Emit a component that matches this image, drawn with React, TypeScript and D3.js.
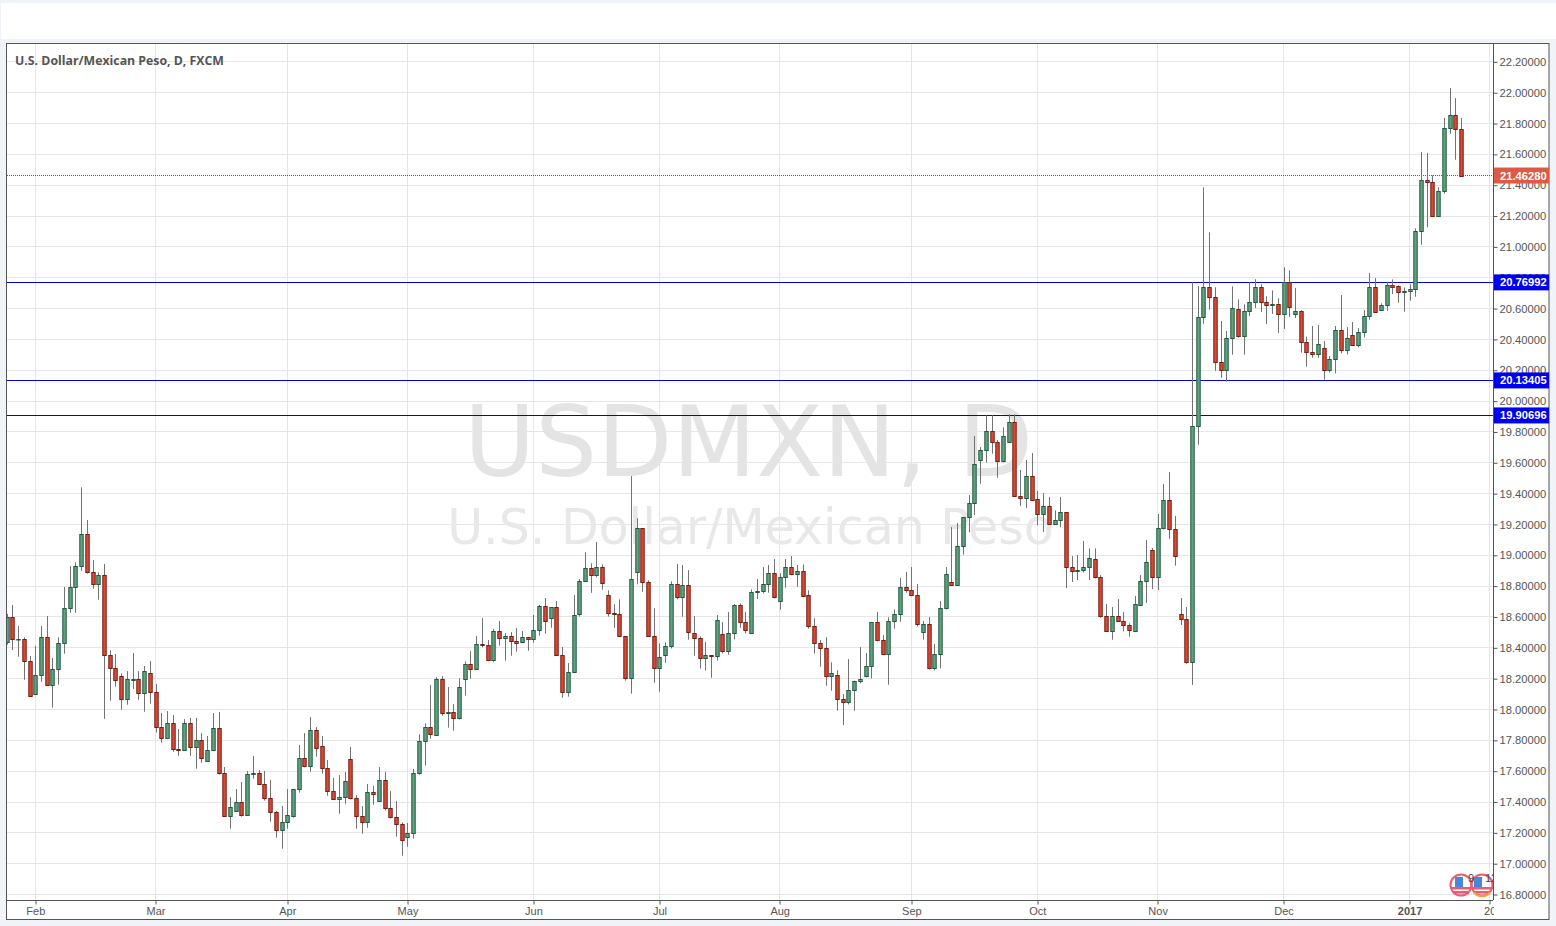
import { useEffect, useRef } from "react";
import * as d3 from "d3";

const opens = [
  18.435,18.598,18.455,18.455,18.312,18.098,18.221,18.468,18.157,18.260,
  18.429,18.656,18.792,18.928,19.136,18.889,18.812,18.870,18.351,18.267,
  18.215,18.066,18.193,18.195,18.105,18.234,18.111,17.884,17.813,17.910,
  17.741,17.735,17.910,17.754,17.800,17.664,17.735,17.878,17.586,17.307,
  17.339,17.398,17.313,17.579,17.586,17.515,17.424,17.333,17.216,17.268,
  17.307,17.482,17.683,17.631,17.865,17.761,17.618,17.469,17.417,17.430,
  17.677,17.424,17.307,17.268,17.463,17.404,17.540,17.359,17.300,17.255,
  17.171,17.197,17.586,17.793,17.884,17.832,18.195,17.975,17.981,17.943,
  18.195,18.293,18.260,18.422,18.416,18.319,18.507,18.461,18.474,18.442,
  18.435,18.468,18.455,18.513,18.669,18.591,18.662,18.351,18.111,18.241,
  18.617,18.831,18.915,18.870,18.922,18.740,18.623,18.617,18.474,18.202,
  18.889,19.175,18.825,18.474,18.267,18.351,18.409,18.812,18.727,18.805,
  18.494,18.461,18.331,18.351,18.345,18.487,18.377,18.494,18.675,18.565,
  18.494,18.760,18.766,18.812,18.883,18.701,18.857,18.922,18.876,18.896,
  18.740,18.539,18.429,18.396,18.215,18.221,18.066,18.046,18.124,18.183,
  18.215,18.280,18.565,18.448,18.358,18.572,18.617,18.792,18.773,18.740,
  18.500,18.552,18.267,18.358,18.656,18.825,18.805,19.058,19.246,19.337,
  19.616,19.681,19.804,19.732,19.609,19.732,19.862,19.382,19.369,19.512,
  19.363,19.266,19.317,19.201,19.227,19.279,18.922,18.896,18.902,18.922,
  18.974,18.857,18.604,18.507,18.604,18.572,18.546,18.511,18.680,18.831,
  19.032,18.857,19.175,19.356,19.168,18.617,18.585,18.306,19.837,20.543,
  20.738,20.673,20.252,20.204,20.407,20.595,20.420,20.582,20.641,20.738,
  20.641,20.621,20.628,20.563,20.770,20.563,20.582,20.381,20.316,20.303,
  20.342,20.199,20.270,20.459,20.329,20.426,20.361,20.446,20.549,20.737,
  20.588,20.621,20.750,20.744,20.705,20.711,20.724,21.101,21.431,21.418,
  21.198,21.360,21.769,21.853,21.762,
];
const closes = [
  18.598,18.455,18.458,18.312,18.085,18.221,18.468,18.157,18.260,18.429,
  18.656,18.792,18.928,19.136,18.889,18.812,18.870,18.351,18.267,18.189,
  18.066,18.195,18.197,18.105,18.247,18.111,17.884,17.813,17.910,17.741,
  17.735,17.910,17.754,17.800,17.683,17.735,17.878,17.586,17.307,17.365,
  17.398,17.313,17.579,17.586,17.515,17.424,17.333,17.216,17.268,17.313,
  17.482,17.683,17.631,17.865,17.748,17.618,17.469,17.417,17.430,17.534,
  17.424,17.307,17.268,17.463,17.450,17.540,17.359,17.300,17.255,17.151,
  17.197,17.586,17.793,17.884,17.839,18.195,17.975,17.981,17.943,18.144,
  18.293,18.260,18.422,18.416,18.319,18.507,18.461,18.474,18.442,18.429,
  18.468,18.455,18.513,18.669,18.572,18.662,18.351,18.111,18.241,18.610,
  18.831,18.915,18.870,18.922,18.818,18.623,18.617,18.474,18.202,18.844,
  19.175,18.825,18.474,18.267,18.338,18.409,18.812,18.727,18.805,18.500,
  18.461,18.331,18.351,18.345,18.578,18.377,18.494,18.675,18.565,18.513,
  18.760,18.766,18.812,18.883,18.727,18.857,18.922,18.876,18.896,18.734,
  18.539,18.429,18.396,18.215,18.234,18.066,18.046,18.124,18.183,18.195,
  18.280,18.565,18.448,18.358,18.572,18.617,18.792,18.773,18.740,18.552,
  18.552,18.267,18.358,18.656,18.876,18.805,19.058,19.246,19.337,19.590,
  19.681,19.804,19.732,19.609,19.771,19.862,19.382,19.369,19.512,19.356,
  19.266,19.317,19.201,19.227,19.279,18.922,18.896,18.902,18.922,18.980,
  18.857,18.604,18.507,18.604,18.572,18.546,18.513,18.682,18.831,18.954,
  18.857,19.175,19.356,19.168,18.993,18.585,18.306,19.837,20.543,20.738,
  20.673,20.252,20.204,20.407,20.602,20.420,20.582,20.641,20.738,20.641,
  20.621,20.628,20.563,20.770,20.608,20.582,20.381,20.316,20.303,20.368,
  20.199,20.270,20.459,20.329,20.407,20.361,20.446,20.549,20.737,20.575,
  20.621,20.750,20.742,20.705,20.711,20.724,21.101,21.431,21.418,21.198,
  21.360,21.769,21.853,21.762,21.4628,
];
const highs = [
  18.620,18.678,18.541,18.468,18.347,18.412,18.541,18.606,18.334,18.468,
  18.794,18.930,18.954,19.441,19.229,18.969,18.889,18.943,18.384,18.360,
  18.234,18.249,18.366,18.249,18.282,18.314,18.165,17.977,17.990,17.964,
  17.873,17.938,17.945,17.945,17.847,17.828,17.977,17.984,17.627,17.432,
  17.484,17.530,17.601,17.698,17.607,17.601,17.543,17.342,17.374,17.484,
  17.482,17.770,17.847,17.951,17.886,17.828,17.672,17.556,17.575,17.595,
  17.757,17.445,17.374,17.517,17.504,17.627,17.595,17.471,17.406,17.268,
  17.264,17.614,17.839,17.910,18.159,18.210,18.217,18.146,18.035,18.202,
  18.312,18.379,18.476,18.593,18.451,18.522,18.574,18.494,18.502,18.528,
  18.509,18.468,18.613,18.678,18.723,18.662,18.703,18.405,18.301,18.742,
  18.846,19.019,18.948,19.086,18.941,18.773,18.682,18.714,18.474,19.514,
  19.240,19.175,18.838,18.656,18.429,18.435,18.831,18.943,18.937,18.904,
  18.606,18.474,18.438,18.351,18.613,18.567,18.632,18.684,18.688,18.632,
  18.779,18.846,18.924,18.937,18.976,18.883,18.976,18.995,18.937,18.941,
  18.773,18.591,18.451,18.468,18.306,18.254,18.100,18.327,18.187,18.405,
  18.366,18.565,18.632,18.483,18.598,18.649,18.853,18.892,18.924,18.814,
  18.574,18.600,18.425,18.703,18.924,19.183,19.209,19.246,19.391,19.774,
  19.702,19.908,19.908,19.748,19.830,19.914,19.914,19.553,19.618,19.663,
  19.417,19.404,19.378,19.291,19.378,19.279,18.995,19.002,19.093,19.045,
  19.045,18.872,18.684,18.665,18.716,18.632,18.559,18.736,18.872,19.099,
  19.047,19.268,19.462,19.540,19.255,18.723,18.665,20.770,20.746,21.386,
  21.095,20.738,20.520,20.455,20.744,20.660,20.628,20.770,20.790,20.757,
  20.680,20.718,20.667,20.868,20.848,20.734,20.589,20.418,20.487,20.493,
  20.389,20.292,20.487,20.688,20.480,20.513,20.474,20.590,20.830,20.798,
  20.634,20.774,20.789,20.750,20.737,20.757,21.120,21.615,21.609,21.464,
  21.386,21.836,22.030,21.965,21.836,
];
const lows = [
  18.420,18.386,18.342,18.193,18.085,18.098,18.180,18.157,18.012,18.161,
  18.362,18.628,18.628,18.900,18.881,18.783,18.712,17.940,18.057,18.148,
  17.999,18.031,18.133,18.064,17.986,18.038,17.850,17.785,17.813,17.726,
  17.700,17.735,17.700,17.616,17.655,17.664,17.735,17.577,17.307,17.227,
  17.339,17.305,17.313,17.551,17.515,17.409,17.272,17.169,17.097,17.227,
  17.298,17.461,17.625,17.597,17.694,17.584,17.441,17.417,17.324,17.389,
  17.417,17.227,17.195,17.233,17.383,17.404,17.346,17.294,17.175,17.052,
  17.110,17.162,17.577,17.636,17.811,17.832,17.960,17.882,17.863,17.936,
  18.090,18.200,18.260,18.403,18.319,18.310,18.414,18.317,18.349,18.375,
  18.435,18.381,18.433,18.479,18.492,18.530,18.351,18.077,18.083,18.241,
  18.602,18.831,18.757,18.857,18.777,18.602,18.530,18.474,18.187,18.103,
  18.812,18.764,18.474,18.174,18.115,18.303,18.396,18.714,18.602,18.453,
  18.349,18.265,18.252,18.206,18.317,18.364,18.355,18.455,18.530,18.494,
  18.494,18.716,18.753,18.757,18.721,18.647,18.790,18.870,18.796,18.734,
  18.524,18.362,18.277,18.154,18.122,17.992,17.899,18.033,17.992,18.170,
  18.208,18.202,18.442,18.358,18.161,18.524,18.569,18.757,18.740,18.539,
  18.453,18.260,18.254,18.267,18.649,18.805,18.805,19.004,19.149,19.261,
  19.464,19.601,19.659,19.503,19.603,19.732,19.382,19.320,19.307,19.356,
  19.196,19.151,19.201,19.201,19.181,18.788,18.827,18.840,18.889,18.840,
  18.850,18.595,18.507,18.453,18.572,18.507,18.472,18.505,18.680,18.691,
  18.781,18.775,19.168,19.106,18.933,18.548,18.297,18.159,19.717,20.502,
  20.593,20.197,20.152,20.126,20.301,20.412,20.302,20.552,20.604,20.578,
  20.500,20.565,20.442,20.468,20.546,20.539,20.314,20.223,20.281,20.281,
  20.139,20.186,20.180,20.309,20.303,20.361,20.348,20.413,20.528,20.575,
  20.588,20.586,20.694,20.638,20.580,20.651,20.677,21.014,21.127,21.198,
  21.198,21.345,21.734,21.565,21.463,
];

const priceTicks = [16.8,17,17.2,17.4,17.6,17.8,18,18.2,18.4,18.6,18.8,19,19.2,19.4,19.6,19.8,20,20.2,20.4,20.6,20.8,21,21.2,21.4,21.6,21.8,22,22.2];
const monthBars = [5,26,49,70,92,114,135,158,180,201,223,245,259];
const monthLabels = ["Feb","Mar","Apr","May","Jun","Jul","Aug","Sep","Oct","Nov","Dec","2017","20"];
const levels = [20.76992,20.13405,19.90696];
const lastPrice = 21.4628;
const calendarLabels = ["9","12"];

const plot = { left: 7, right: 1493, top: 44, bottom: 900 };
const font = "'Liberation Sans', Arial, sans-serif";
const green = { fill: "#63a27f", stroke: "#1d5a40" };
const red = { fill: "#d94a36", stroke: "#761d12" };

const buildChart = (ref: SVGSVGElement) => {
  const svg = d3.select(ref);
  svg.selectAll("*").remove();

  const x = d3.scaleLinear().domain([0, 254]).range([6.67, 1461.1]);
  const y = d3.scaleLinear().domain([22, 17]).range([92.7, 863.7]);
  const crisp = (v: number) => Math.floor(v) + 0.5;

  svg.append("rect").attr("width", 1556).attr("height", 926).attr("fill", "#f0f3f8");
  svg.append("rect").attr("x", 1).attr("y", 3).attr("width", 1555).attr("height", 36).attr("fill", "#fff");
  svg.append("rect").attr("x", 6.5).attr("y", 43.5).attr("width", 1542.5).attr("height", 876)
    .attr("fill", "#fff").attr("stroke", "#555");

  const defs = svg.append("defs");
  defs.append("clipPath").attr("id", "plot").append("rect")
    .attr("x", plot.left).attr("y", plot.top).attr("width", plot.right - plot.left).attr("height", plot.bottom - plot.top);
  defs.append("clipPath").attr("id", "timeAxis").append("rect")
    .attr("x", plot.left).attr("y", plot.bottom).attr("width", plot.right - plot.left + 1).attr("height", 19);

  const g = svg.append("g").attr("clip-path", "url(#plot)");

  g.selectAll("line.hgrid").data(priceTicks).enter().append("line")
    .attr("x1", plot.left).attr("x2", plot.right)
    .attr("y1", (d) => crisp(y(d))).attr("y2", (d) => crisp(y(d)))
    .attr("stroke", "#e6e6e6");
  g.selectAll("line.vgrid").data(monthBars).enter().append("line")
    .attr("x1", (d) => crisp(x(d))).attr("x2", (d) => crisp(x(d)))
    .attr("y1", plot.top).attr("y2", plot.bottom)
    .attr("stroke", "#e6e6e6");

  // watermark
  g.append("text").text("USDMXN, D")
    .attr("x", 748.5).attr("y", 476).attr("text-anchor", "middle")
    .style("font", "97.5px 'DejaVu Sans'").attr("fill", "#e4e4e4");
  g.append("text").text("U.S. Dollar/Mexican Peso")
    .attr("x", 750.5).attr("y", 544).attr("text-anchor", "middle")
    .style("font", "49px 'DejaVu Sans'").attr("fill", "#e8e8e8");

  // levels under the candles
  g.selectAll("line.level").data(levels).enter().append("line")
    .attr("x1", plot.left).attr("x2", plot.right)
    .attr("y1", (d) => crisp(y(d))).attr("y2", (d) => crisp(y(d)))
    .attr("stroke", "#0000e0");
  g.append("line")
    .attr("x1", plot.left).attr("x2", plot.right)
    .attr("y1", crisp(y(lastPrice))).attr("y2", crisp(y(lastPrice)))
    .attr("stroke", "#a8402f").attr("stroke-dasharray", "1,1");

  const bars = g.selectAll("g.bar").data(opens).enter().append("g");
  bars.each(function (o, i) {
    const el = d3.select(this);
    const c = closes[i];
    const col = c >= o ? green : red;
    const cx = Math.round(x(i));
    const top = Math.round(y(Math.max(o, c)));
    const bottom = Math.round(y(Math.min(o, c)));
    el.append("line")
      .attr("x1", cx + 0.5).attr("x2", cx + 0.5)
      .attr("y1", y(highs[i])).attr("y2", y(lows[i]))
      .attr("stroke", "#737373");
    el.append("rect")
      .attr("x", cx - 1.2).attr("y", top + 0.5)
      .attr("width", 3.4).attr("height", Math.max(bottom - top, 0.5))
      .attr("fill", col.fill).attr("stroke", col.stroke);
  });

  // calendar marks, lower right
  const marks = [{ cx: 1461, dx: -6, tx: 7 }, { cx: 1482, dx: -8, tx: 3 }];
  marks.forEach((k, n) => {
    const m = g.append("g").attr("transform", `translate(${k.cx} 885)`);
    m.append("circle").attr("r", 10.5).attr("fill", "none").attr("stroke", "#ee5a70").attr("stroke-width", 2);
    m.append("rect").attr("x", -9).attr("y", 2).attr("width", 18).attr("height", 2.5).attr("fill", "#ee5a70");
    m.append("rect").attr("x", -8).attr("y", 6).attr("width", 16).attr("height", 2.5).attr("fill", "#ee5a70");
    m.append("rect").attr("x", k.dx).attr("y", -8).attr("width", 8).attr("height", 10).attr("fill", "#4a86d8");
    if (n === 1) {
      m.append("path").attr("d", "M-8 7.5 A10.5 10.5 0 0 0 8 7.5").attr("fill", "none").attr("stroke", "#f2a23c").attr("stroke-width", 2);
    }
  });
  marks.forEach((k, n) => {
    g.append("text").text(calendarLabels[n]).attr("x", k.cx + k.tx).attr("y", 882)
      .style("font", `11px ${font}`).attr("fill", "#444");
  });

  // title
  svg.append("text").text("U.S. Dollar/Mexican Peso, D, FXCM")
    .attr("x", 15).attr("y", 65)
    .style("font", "bold 12.3px 'Open Sans'").attr("fill", "#555");

  // price axis
  const axisY = d3.axisRight(y).tickValues(priceTicks).tickFormat(d3.format(".5f") as any).tickSize(4).tickPadding(2);
  const gy = svg.append("g").attr("transform", `translate(${plot.right + 0.5} 0)`).call(axisY);
  gy.select(".domain").attr("d", `M0 ${plot.top}V${plot.bottom}`).attr("stroke", "#555");
  gy.selectAll("line").attr("stroke", "#555");
  gy.selectAll("text").style("font", `11.2px ${font}`).attr("fill", "#555");

  // time axis
  const axisX = d3.axisBottom(x).tickValues(monthBars).tickFormat((_, i) => monthLabels[i]).tickSize(4).tickPadding(3);
  const gx = svg.append("g").attr("clip-path", "url(#timeAxis)")
    .append("g").attr("transform", `translate(0 ${plot.bottom + 0.5})`).call(axisX);
  gx.select(".domain").attr("d", `M${plot.left} 0H${plot.right}`).attr("stroke", "#555");
  gx.selectAll("line").attr("stroke", "#555").attr("transform", (d: any) => `translate(${crisp(x(d)) - x(d)} 0)`);
  gx.selectAll("text").style("font", `11px ${font}`).attr("fill", "#555")
    .style("font-weight", (_, i) => (monthLabels[i] === "2017" ? "bold" : "normal"));

  // price badges
  const badge = (v: number, fill: string) => {
    const by = y(v);
    svg.append("rect").attr("x", plot.right + 1).attr("y", by - 8).attr("width", 55).attr("height", 16).attr("fill", fill);
    svg.append("text").text(v.toFixed(5)).attr("x", plot.right + 7).attr("y", by + 4)
      .style("font", `bold 11.2px ${font}`).attr("fill", "#fff");
  };
  levels.forEach((v) => badge(v, "#0000f0"));
  badge(lastPrice, "#dd5a47");
};

export default function App() {
  const ref = useRef<SVGSVGElement>(null);
  useEffect(() => {
    if (ref.current) buildChart(ref.current);
  }, []);
  return (
    <svg
      ref={ref}
      width={1556}
      height={926}
      style={{ position: "fixed", left: 0, top: 0, display: "block" }}
    ></svg>
  );
}
